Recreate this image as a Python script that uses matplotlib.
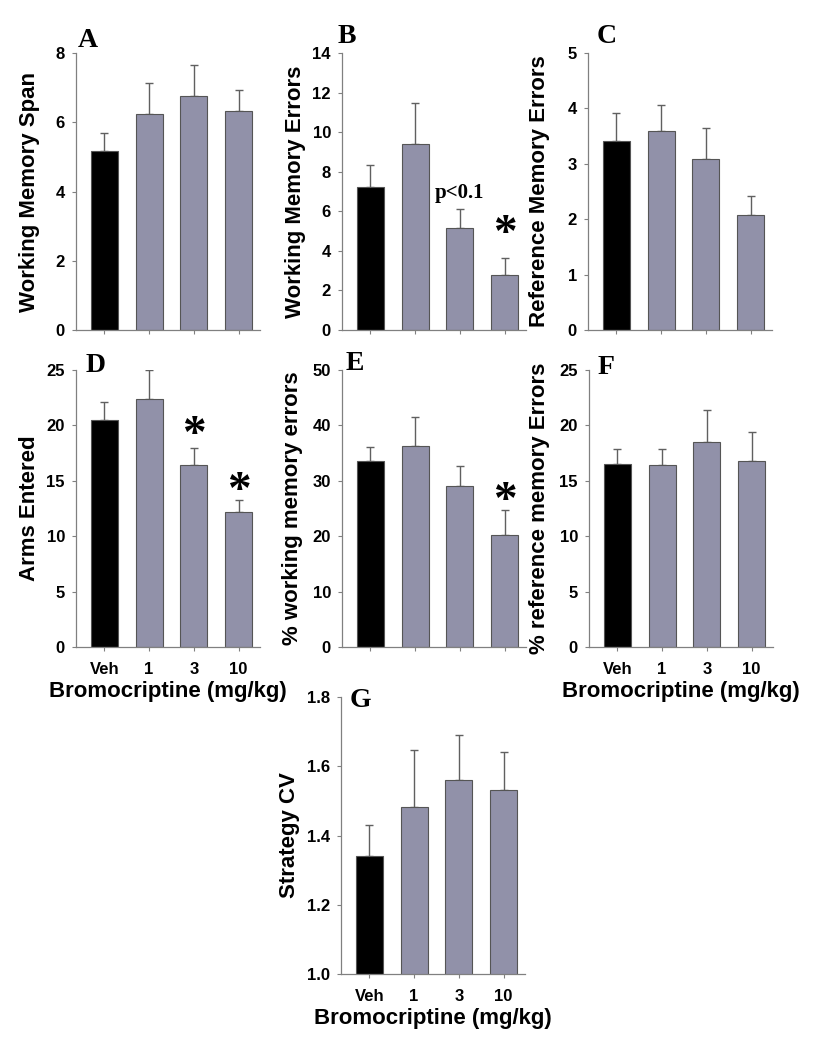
import matplotlib
matplotlib.use('Agg')
import matplotlib.pyplot as plt

# doses on x axis
doses = ['Veh', '1', '3', '10']

# means and upper error bar tops for each panel
span_mean = [5.17, 6.25, 6.75, 6.33]
span_top = [5.70, 7.14, 7.66, 6.92]

wme_mean = [7.22, 9.41, 5.13, 2.80]
wme_top = [8.35, 11.45, 6.14, 3.64]

rme_mean = [3.41, 3.59, 3.08, 2.08]
rme_top = [3.91, 4.07, 3.65, 2.41]

arms_mean = [20.5, 22.4, 16.4, 12.2]
arms_top = [22.1, 24.97, 17.97, 13.3]

pwme_mean = [33.6, 36.2, 29.1, 20.2]
pwme_top = [36.1, 41.5, 32.7, 24.7]

prme_mean = [16.5, 16.4, 18.5, 16.8]
prme_top = [17.9, 17.9, 21.36, 19.4]

cv_mean = [1.34, 1.482, 1.559, 1.530]
cv_top = [1.43, 1.647, 1.691, 1.640]

W, H = 822, 1050
AW, AH = 184, 277
fig = plt.figure(figsize=(W / 100, H / 100), dpi=100)

bar_colors = ['black', '#9191a9', '#9191a9', '#9191a9']
spine_col = '#808080'
sans = ['Liberation Sans', 'DejaVu Sans']
serif = ['Liberation Serif', 'DejaVu Serif']


def panel(left, top, mean, top_err, ylim, yticks, ylabel, letter, lpos,
          ylab_dx, xlabels=False, ytickfmt='{:g}'):
    ax = fig.add_axes([left / W, 1 - (top + AH) / H, AW / W, AH / H])
    x = list(range(len(mean)))
    ax.bar(x, mean, width=0.6, color=bar_colors, edgecolor='#555555',
           linewidth=0.8, zorder=2)
    err = [t - m for t, m in zip(top_err, mean)]
    ax.errorbar(x, mean, yerr=[[0] * len(mean), err], fmt='none',
                ecolor='#606060', elinewidth=1, capsize=3, capthick=1,
                zorder=1)
    ax.set_xlim(-0.633, 3.478)
    ax.set_ylim(*ylim)
    ax.set_yticks(yticks)
    ax.set_yticklabels([ytickfmt.format(v) for v in yticks])
    ax.set_xticks(x)
    if xlabels:
        ax.set_xticklabels(doses)
        ax.set_xlabel('Bromocriptine (mg/kg)', fontsize=16,
                      fontweight='bold', family=sans, labelpad=3)
    else:
        ax.set_xticklabels([])
    for s in ['top', 'right']:
        ax.spines[s].set_visible(False)
    for s in ['left', 'bottom']:
        ax.spines[s].set_color(spine_col)
        ax.spines[s].set_linewidth(0.9)
    ax.tick_params(direction='out', length=3, width=0.8, color=spine_col,
                   labelsize=12)
    ax.tick_params(axis='y', pad=5)
    ax.tick_params(axis='x', pad=8)
    for lab in ax.get_xticklabels() + ax.get_yticklabels():
        lab.set_fontweight('bold')
        lab.set_family(sans)
    ax.set_ylabel(ylabel, fontsize=16, fontweight='bold', family=sans)
    ax.yaxis.set_label_coords(-ylab_dx / AW, 0.5)
    ax.yaxis.label.set_verticalalignment('center')
    dx, dy = lpos
    ax.text(dx / AW, 1 - dy / AH, letter, transform=ax.transAxes,
            fontsize=20, fontweight='bold', family=serif, ha='left',
            va='baseline')
    return ax


def star(ax, x, y):
    ax.text(x, y, '*', fontsize=34, fontweight='bold', family=serif,
            ha='center', va='center')


axA = panel(76, 53, span_mean, span_top, (0, 8), [0, 2, 4, 6, 8],
            'Working Memory Span', 'A', (2, -6), 46)
axB = panel(342, 53, wme_mean, wme_top, (0, 14), [0, 2, 4, 6, 8, 10, 12, 14],
            'Working Memory Errors', 'B', (-4, -10), 47)
axB.text(2.0, 6.92, 'p<0.1', fontsize=15, fontweight='bold', family=serif,
         ha='center', va='center')
star(axB, 3.0, 4.8)
axC = panel(588, 53, rme_mean, rme_top, (0, 5), [0, 1, 2, 3, 4, 5],
            'Reference Memory Errors', 'C', (9, -10), 49)

axD = panel(76, 370, arms_mean, arms_top, (0, 25), [0, 5, 10, 15, 20, 25],
            'Arms Entered', 'D', (10, 2), 46, xlabels=True)
star(axD, 2.0, 19.0)
star(axD, 3.0, 14.0)
axE = panel(342, 370, pwme_mean, pwme_top, (0, 50), [0, 10, 20, 30, 40, 50],
            '% working memory errors', 'E', (4, 0), 50)
star(axE, 3.0, 26.1)
axF = panel(589, 370, prme_mean, prme_top, (0, 25), [0, 5, 10, 15, 20, 25],
            '% reference memory Errors', 'F', (9, 4), 50, xlabels=True)

axG = panel(341, 697, cv_mean, cv_top, (1.0, 1.8), [1.0, 1.2, 1.4, 1.6, 1.8],
            'Strategy CV', 'G', (9, 10), 52, xlabels=True, ytickfmt='{:.1f}')

fig.savefig('out.png', dpi=100)
